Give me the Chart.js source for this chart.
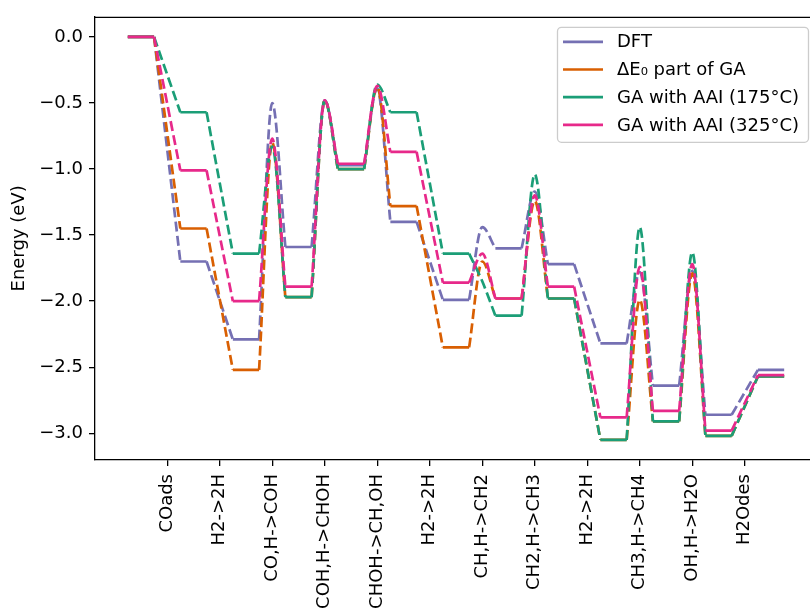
<!DOCTYPE html>
<html>
<head>
<meta charset="utf-8">
<script src="https://cdn.jsdelivr.net/npm/chart.js@4.4.1/dist/chart.umd.min.js"></script>
<style>
  body { margin: 0; background: #fff; }
  #wrap { width: 810px; height: 610px; overflow: hidden; }
</style>
</head>
<body>
<div id="wrap"><canvas id="chart" width="822" height="610"></canvas></div>
<script>
// Etapas da reação (rótulos do eixo x, um por transição)
const stepLabels = ['COads', 'H2->2H', 'CO,H->COH', 'COH,H->CHOH', 'CHOH->CH,OH', 'H2->2H',
                    'CH,H->CH2', 'CH2,H->CH3', 'H2->2H', 'CH3,H->CH4', 'OH,H->H2O', 'H2Odes'];

// Energias dos estados intermediários (eV), 13 estados
const levelsDFT   = [0, -1.70, -2.29, -1.59, -0.97, -1.40, -1.99, -1.60, -1.72, -2.32, -2.64, -2.86, -2.52];
const levelsDE0   = [0, -1.45, -2.52, -1.97, -1.00, -1.28, -2.35, -1.98, -1.98, -3.05, -2.91, -3.02, -2.57];
const levelsGA175 = [0, -0.57, -1.64, -1.97, -1.00, -0.57, -1.64, -2.11, -1.98, -3.05, -2.91, -3.02, -2.57];
const levelsGA325 = [0, -1.01, -2.00, -1.89, -0.96, -0.87, -1.86, -1.98, -1.89, -2.88, -2.83, -2.98, -2.56];

// Estados de transição (null = etapa sem barreira)
const tsDFT   = [null, null, -0.50, -0.48, -0.39, null, -1.44, -1.17, null, -1.78, -1.77, null];
const tsDE0   = [null, null, -0.80, -0.48, -0.38, null, -1.70, -1.24, null, -1.99, -1.79, null];
const tsGA175 = [null, null, -0.83, -0.48, -0.36, null, -1.85, -1.04, null, -1.44, -1.63, null];
const tsGA325 = [null, null, -0.77, -0.48, -0.37, null, -1.64, -1.20, null, -1.74, -1.72, null];

const yTicks = [0, -0.5, -1.0, -1.5, -2.0, -2.5, -3.0];

const series = [
    { label: 'DFT', color: '#7570b3', levels: levelsDFT, ts: tsDFT },
    { label: 'ΔE₀ part of GA', color: '#d95f02', levels: levelsDE0, ts: tsDE0 },
    { label: 'GA with AAI (175°C)', color: '#1b9e77', levels: levelsGA175, ts: tsGA175 },
    { label: 'GA with AAI (325°C)', color: '#e7298a', levels: levelsGA325, ts: tsGA325 }
];

const HALF = 0.25;   // meia largura de cada patamar
const LW = 2.7;
const DASH = [10, 4.3];
const FONT = 18;

function levelPoints(levels) {
    const pts = [];
    levels.forEach(function(e, i) {
        pts.push({ x: i - HALF, y: e }, { x: i + HALF, y: e }, { x: i + 0.5, y: null });
    });
    return pts;
}

function transitionPoints(levels, ts, withBarrier) {
    const pts = [];
    for (let i = 0; i < ts.length; i++) {
        if ((ts[i] !== null) !== withBarrier) continue;
        pts.push({ x: i + HALF, y: levels[i] });
        if (withBarrier) pts.push({ x: i + 0.5, y: ts[i] });
        pts.push({ x: i + 1 - HALF, y: levels[i + 1] }, { x: i + 0.9, y: null });
    }
    return pts;
}

const datasets = [];
series.forEach(function(s, k) {
    const order = series.length - k;
    const base = { borderColor: s.color, backgroundColor: s.color, borderWidth: LW,
                   pointRadius: 0, spanGaps: false, fill: false, order: order };
    datasets.push(Object.assign({}, base, { label: s.label, data: levelPoints(s.levels) }));
    datasets.push(Object.assign({}, base, { label: s.label + ' (etapas)', data: transitionPoints(s.levels, s.ts, false), borderDash: DASH }));
    datasets.push(Object.assign({}, base, { label: s.label + ' (barreiras)', data: transitionPoints(s.levels, s.ts, true), borderDash: DASH, cubicInterpolationMode: 'monotone' }));
});

// Moldura superior e legenda no estilo matplotlib
const framePlugin = {
    id: 'frame',
    afterDatasetsDraw: function(chart) {
        const ctx = chart.ctx;
        const a = chart.chartArea;
        ctx.save();
        ctx.strokeStyle = '#000';
        ctx.lineWidth = 1.3;
        ctx.beginPath();
        ctx.moveTo(a.left, a.top + 0.5);
        ctx.lineTo(a.right, a.top + 0.5);
        ctx.lineTo(a.right - 0.5, a.bottom);
        ctx.stroke();

        // legenda
        const bw = 251, bh = 115;
        const bx = a.right - 9 - bw, by = a.top + 10;
        ctx.fillStyle = 'rgba(255,255,255,0.8)';
        ctx.strokeStyle = '#cccccc';
        ctx.lineWidth = 1.3;
        ctx.beginPath();
        ctx.roundRect(bx + 0.5, by + 0.5, bw, bh, 4);
        ctx.fill();
        ctx.stroke();
        ctx.font = FONT + 'px "DejaVu Sans"';
        ctx.textBaseline = 'middle';
        series.forEach(function(s, k) {
            const y = by + 15 + k * 27.7;
            ctx.strokeStyle = s.color;
            ctx.lineWidth = LW;
            ctx.beginPath();
            ctx.moveTo(bx + 6, y);
            ctx.lineTo(bx + 46, y);
            ctx.stroke();
            ctx.fillStyle = '#000';
            ctx.fillText(s.label, bx + 60, y + 1);
        });
        ctx.restore();
    }
};

Chart.defaults.font.family = '"DejaVu Sans", sans-serif';
Chart.defaults.font.size = FONT;
Chart.defaults.color = '#000';

new Chart(document.getElementById('chart').getContext('2d'), {
    type: 'line',
    data: { datasets: datasets },
    options: {
        responsive: false,
        animation: false,
        layout: { padding: { left: 0, right: 5, top: 15, bottom: 0 } },
        plugins: {
            legend: { display: false },
            tooltip: { enabled: false }
        },
        scales: {
            x: {
                type: 'linear',
                min: -0.875,
                max: 12.875,
                afterBuildTicks: function(scale) {
                    scale.ticks = stepLabels.map(function(_, i) { return { value: i + 0.5 }; });
                },
                afterFit: function(scale) { scale.height = 150; },
                ticks: {
                    autoSkip: false,
                    minRotation: 90,
                    maxRotation: 90,
                    padding: 8,
                    callback: function(value) { return stepLabels[Math.round(value - 0.5)]; }
                },
                grid: { drawOnChartArea: false, drawTicks: true, tickLength: 6, lineWidth: 1.3, color: '#000' },
                border: { display: true, color: '#000', width: 1.3 }
            },
            y: {
                min: -3.2025,
                max: 0.1525,
                afterBuildTicks: function(scale) {
                    scale.ticks = yTicks.map(function(v) { return { value: v }; });
                },
                afterFit: function(scale) { scale.width = 95; },
                ticks: {
                    padding: 6,
                    callback: function(value) { return value.toFixed(1).replace('-', '−'); }
                },
                title: { display: true, text: 'Energy (eV)', padding: { top: 9, bottom: 4 } },
                grid: { drawOnChartArea: false, drawTicks: true, tickLength: 6, lineWidth: 1.3, color: '#000' },
                border: { display: true, color: '#000', width: 1.3 }
            }
        }
    },
    plugins: [framePlugin]
});
</script>
</body>
</html>
